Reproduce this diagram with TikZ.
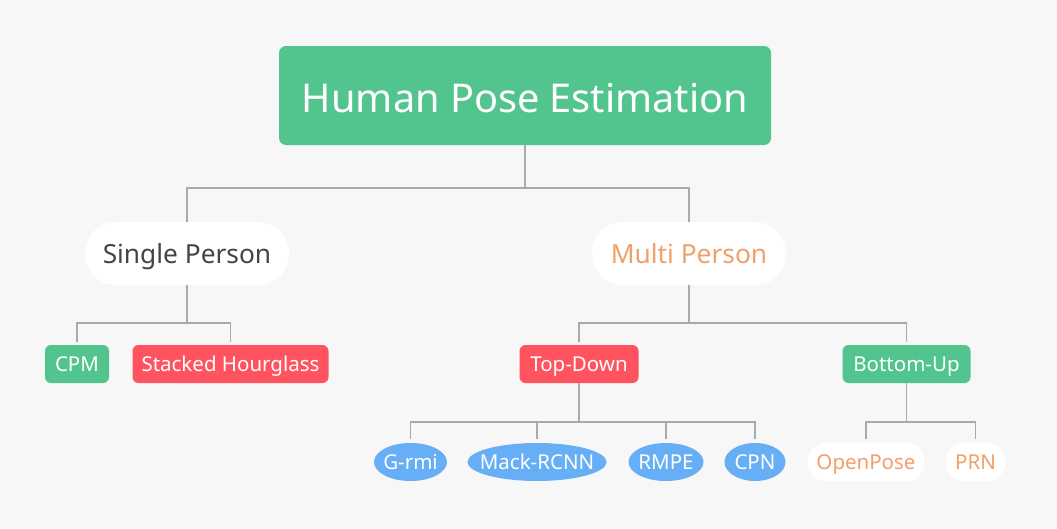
\documentclass[tikz,border=0pt]{standalone}
\usepackage{fontspec}
\setmainfont{Noto Sans}
\usetikzlibrary{shapes.geometric}
\definecolor{bg}{HTML}{F7F7F7}
\definecolor{mgreen}{HTML}{52C48E}
\definecolor{mred}{HTML}{FF535F}
\definecolor{mblue}{HTML}{66AEF5}
\definecolor{morange}{HTML}{F0A06A}
\definecolor{mdark}{HTML}{444444}
\definecolor{mline}{HTML}{AAAAAA}
\tikzset{
  base/.style={inner sep=0pt, text depth=0pt, align=center},
  rootbox/.style={base, fill=mgreen, rounded corners=7pt, text=white, font=\fontsize{39.7}{40}\selectfont, text height=34pt},
  pill/.style={base, fill=white, rounded corners=31pt, font=\fontsize{26.3}{27}\selectfont, text height=20pt, minimum height=63pt},
  tagbox/.style={base, rounded corners=6pt, text=white, font=\fontsize{20.5}{21}\selectfont, text height=14.6pt, minimum height=38pt},
  leaf/.style={base, ellipse, inner xsep=-8pt, fill=mblue, text=white, font=\fontsize{20.5}{21}\selectfont, text height=14.6pt, minimum height=38pt},
  wleaf/.style={base, fill=white, rounded corners=18pt, text=morange, font=\fontsize{20.5}{21}\selectfont, text height=14.6pt, minimum height=38pt},
  conn/.style={draw=mline, line width=1.5pt},
}
\begin{document}
\begin{tikzpicture}[x=1pt,y=-1pt]
\fill[bg] (0,0) rectangle (1057,528);
\useasboundingbox (0,0) rectangle (1057,528);

\node[rootbox, minimum width=492pt, minimum height=99pt] (root) at (525,95.5) {Human Pose Estimation};

\node[pill, text=mdark, minimum width=204pt] (sp) at (187,253.5) {Single Person};
\node[pill, text=morange, minimum width=194pt] (mp) at (689,253.5) {Multi Person};

\node[tagbox, fill=mgreen, minimum width=64pt] (cpm) at (77,364) {CPM};
\node[tagbox, fill=mred, minimum width=196pt] (sh) at (230.5,364) {Stacked Hourglass};
\node[tagbox, fill=mred, minimum width=119pt] (td) at (579,364) {Top-Down};
\node[tagbox, fill=mgreen, minimum width=128pt] (bu) at (906.5,364) {Bottom-Up};

\node[leaf, minimum width=73pt] (grmi) at (410.5,462) {G-rmi};
\node[leaf, minimum width=137pt] (mack) at (537,462) {Mack-RCNN};
\node[leaf, minimum width=75pt] (rmpe) at (666,462) {RMPE};
\node[leaf, minimum width=61pt] (cpn) at (755,462) {CPN};
\node[wleaf, minimum width=117pt] (op) at (866,462) {OpenPose};
\node[wleaf, minimum width=59pt] (prn) at (975.5,462) {PRN};

\coordinate (b1) at (0,188);
\coordinate (b2) at (0,323);
\coordinate (b3) at (0,422);

\draw[conn] (root.south) -- (root.south |- b1) -| (sp.north);
\draw[conn] (root.south |- b1) -| (mp.north);

\draw[conn] (sp.south) -- (sp.south |- b2) -| ([yshift=3pt]cpm.north);
\draw[conn] (sp.south |- b2) -| ([yshift=3pt]sh.north);

\draw[conn] (mp.south) -- (mp.south |- b2) -| ([yshift=3pt]td.north);
\draw[conn] (mp.south |- b2) -| ([yshift=3pt]bu.north);

\draw[conn] (td.south) -- (td.south |- b3) -| ([yshift=4pt]grmi.north);
\draw[conn] (td.south |- b3) -| ([yshift=4pt]mack.north);
\draw[conn] (td.south |- b3) -| ([yshift=4pt]rmpe.north);
\draw[conn] (td.south |- b3) -| ([yshift=4pt]cpn.north);

\draw[conn] (bu.south) -- (bu.south |- b3) -| ([yshift=4pt]op.north);
\draw[conn] (bu.south |- b3) -| ([yshift=4pt]prn.north);
\end{tikzpicture}
\end{document}
